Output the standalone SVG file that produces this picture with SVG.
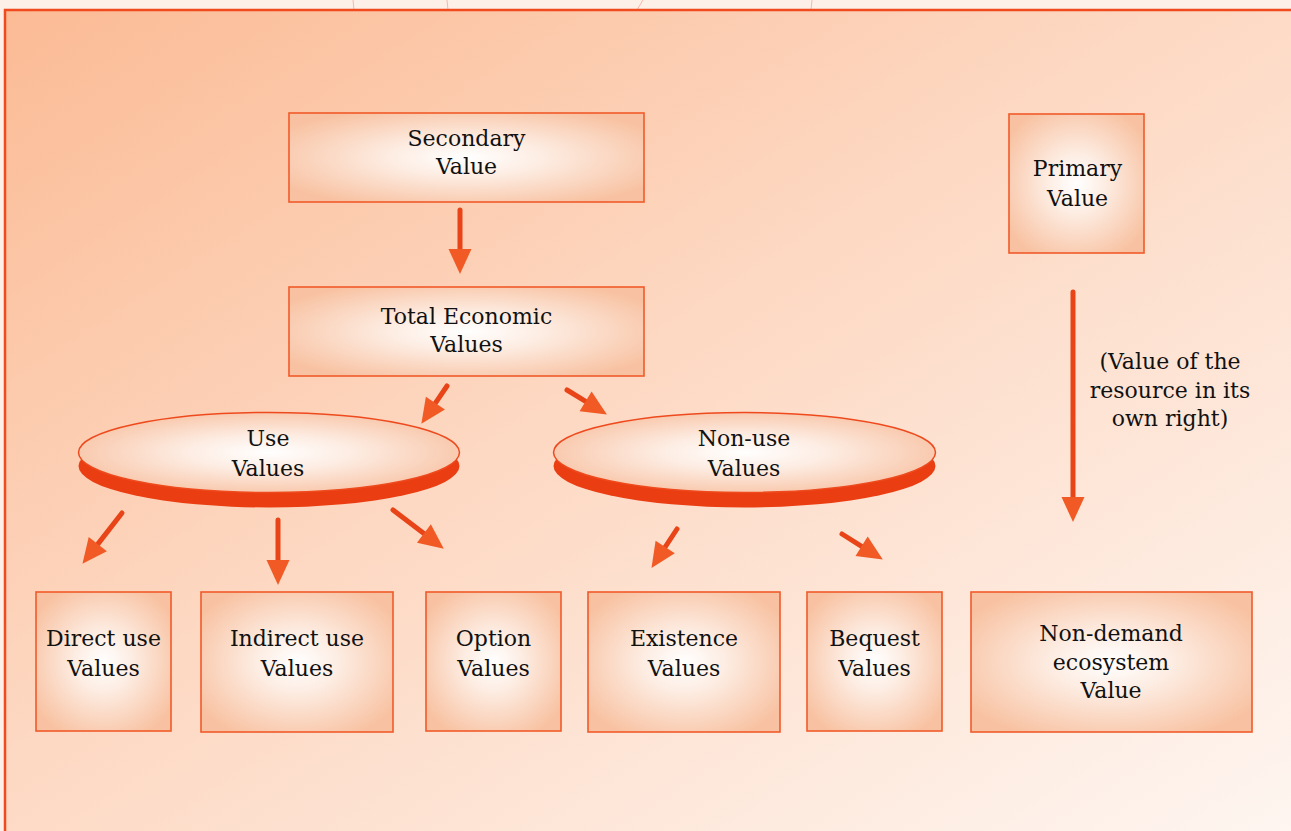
<svg xmlns="http://www.w3.org/2000/svg" width="1291" height="831" viewBox="0 0 1291 831">
  <defs>
    <linearGradient id="bgGrad" x1="0" y1="0" x2="1" y2="1">
      <stop offset="0" stop-color="#FBBB95"/>
      <stop offset="0.45" stop-color="#FDD8C2"/>
      <stop offset="1" stop-color="#FEF6F1"/>
    </linearGradient>
    <radialGradient id="boxGrad" cx="0.5" cy="0.5" r="0.6">
      <stop offset="0" stop-color="#FFFFFF"/>
      <stop offset="0.35" stop-color="#FDEDE3"/>
      <stop offset="1" stop-color="#F8C2A2"/>
    </radialGradient>
    <radialGradient id="ellGrad" cx="0.5" cy="0.5" r="0.55">
      <stop offset="0" stop-color="#FFFFFF"/>
      <stop offset="0.4" stop-color="#FDECE2"/>
      <stop offset="1" stop-color="#F8C4A6"/>
    </radialGradient>
    <marker id="head" markerUnits="userSpaceOnUse" markerWidth="26" markerHeight="24" refX="0" refY="11.5" orient="auto" overflow="visible">
      <path d="M0,0 L25,11.5 L0,23 z" fill="#F15A24"/>
    </marker>
    <style>
      .box { fill: url(#boxGrad); stroke: #F05A2A; stroke-width: 1.6; }
      .ell { fill: url(#ellGrad); stroke: #EE4A1E; stroke-width: 1.5; }
      .shadow { fill: #EA3D12; }
      .lbl { font-family: "DejaVu Serif", "Liberation Serif", serif; font-size: 22px; fill: #111111; text-anchor: middle; }
      .arr { stroke: #E84418; stroke-width: 5; fill: none; stroke-linecap: round; marker-end: url(#head); }
      .faint { stroke: #F4B8A8; stroke-width: 1; fill: none; }
    </style>
  </defs>

  <rect x="0" y="0" width="1291" height="831" fill="#FDF0E8"/>
  <g id="faint-lines">
    <line class="faint" x1="353" y1="0" x2="354" y2="10"/>
    <line class="faint" x1="447" y1="0" x2="448" y2="10"/>
    <line class="faint" x1="643" y1="0" x2="637" y2="10"/>
    <line class="faint" x1="812" y1="0" x2="811" y2="10"/>
  </g>
  <g id="frame">
    <rect x="5" y="10" width="1290" height="830" fill="url(#bgGrad)" stroke="#F04A1E" stroke-width="2.5"/>
  </g>

  <g id="connectors">
    <line class="arr" x1="460" y1="210" x2="460" y2="249"/>
    <line class="arr" x1="447" y1="386" x2="435.4" y2="403.1"/>
    <line class="arr" x1="567" y1="390" x2="585.6" y2="401.4"/>
    <line class="arr" x1="122" y1="513" x2="97.8" y2="544.1"/>
    <line class="arr" x1="278" y1="520" x2="278" y2="560"/>
    <line class="arr" x1="393" y1="510" x2="423.9" y2="533.5"/>
    <line class="arr" x1="677" y1="529" x2="665.2" y2="547"/>
    <line class="arr" x1="842" y1="534" x2="861.6" y2="546.3"/>
    <line class="arr" x1="1073" y1="292" x2="1073" y2="497"/>
  </g>

  <g id="secondary-value">
    <rect class="box" x="289" y="113" width="355" height="89"/>
    <text class="lbl" x="466.5" y="146">Secondary</text>
    <text class="lbl" x="466.5" y="174">Value</text>
  </g>

  <g id="total-economic-values">
    <rect class="box" x="289" y="287" width="355" height="89"/>
    <text class="lbl" x="466.5" y="324">Total Economic</text>
    <text class="lbl" x="466.5" y="352">Values</text>
  </g>

  <g id="primary-value">
    <rect class="box" x="1009" y="114" width="135" height="139"/>
    <text class="lbl" x="1077.5" y="176">Primary</text>
    <text class="lbl" x="1077.5" y="206">Value</text>
  </g>

  <g id="primary-note">
    <text class="lbl" x="1170" y="369">(Value of the</text>
    <text class="lbl" x="1170" y="398">resource in its</text>
    <text class="lbl" x="1170" y="426">own right)</text>
  </g>

  <g id="use-values">
    <ellipse class="shadow" cx="269" cy="466" rx="190.5" ry="41.5"/>
    <ellipse class="ell" cx="269" cy="452.5" rx="190.5" ry="40"/>
    <text class="lbl" x="268" y="446">Use</text>
    <text class="lbl" x="268" y="476">Values</text>
  </g>

  <g id="non-use-values">
    <ellipse class="shadow" cx="744.5" cy="466" rx="191" ry="41.5"/>
    <ellipse class="ell" cx="744.5" cy="452.5" rx="191" ry="40"/>
    <text class="lbl" x="744" y="446">Non-use</text>
    <text class="lbl" x="744" y="476">Values</text>
  </g>

  <g id="direct-use-values">
    <rect class="box" x="36" y="592" width="135" height="139"/>
    <text class="lbl" x="103.5" y="646">Direct use</text>
    <text class="lbl" x="103.5" y="676">Values</text>
  </g>

  <g id="indirect-use-values">
    <rect class="box" x="201" y="592" width="192" height="140"/>
    <text class="lbl" x="297" y="646">Indirect use</text>
    <text class="lbl" x="297" y="676">Values</text>
  </g>

  <g id="option-values">
    <rect class="box" x="426" y="592" width="135" height="139"/>
    <text class="lbl" x="493.5" y="646">Option</text>
    <text class="lbl" x="493.5" y="676">Values</text>
  </g>

  <g id="existence-values">
    <rect class="box" x="588" y="592" width="192" height="140"/>
    <text class="lbl" x="684" y="646">Existence</text>
    <text class="lbl" x="684" y="676">Values</text>
  </g>

  <g id="bequest-values">
    <rect class="box" x="807" y="592" width="135" height="139"/>
    <text class="lbl" x="874.5" y="646">Bequest</text>
    <text class="lbl" x="874.5" y="676">Values</text>
  </g>

  <g id="non-demand-ecosystem-value">
    <rect class="box" x="971" y="592" width="281" height="140"/>
    <text class="lbl" x="1111" y="641">Non-demand</text>
    <text class="lbl" x="1111" y="670">ecosystem</text>
    <text class="lbl" x="1111" y="698">Value</text>
  </g>
</svg>
